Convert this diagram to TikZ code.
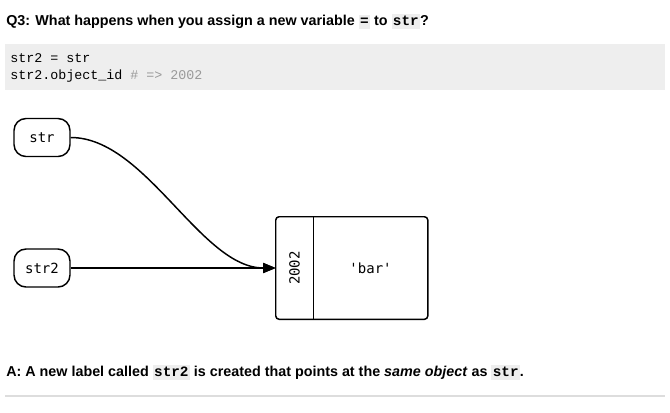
\documentclass[tikz,border=0pt]{standalone}
\usepackage{fontspec}
\setmainfont{Liberation Sans}
\setmonofont{Liberation Mono}
\newfontfamily\labelfont{DejaVu Sans Mono}
\usetikzlibrary{arrows.meta,positioning}
\definecolor{codebg}{HTML}{EEEEEE}
\definecolor{rulegray}{HTML}{DDDDDD}
\definecolor{commentgray}{HTML}{999999}
\newcommand\inlinecode[1]{{\setlength\fboxsep{1pt}\colorbox{codebg}{\ttfamily\rule[-1.8pt]{0pt}{8.5pt}#1}}}

\begin{document}
\begin{tikzpicture}[x=0.75pt,y=-0.75pt,
    textline/.style={anchor=base west,inner sep=0pt},
    heading/.style={textline,font=\bfseries\fontsize{10.75}{13}\selectfont},
    codeline/.style={textline,font=\ttfamily\fontsize{10}{12}\selectfont},
    varbox/.style={draw,line width=1.1pt,rounded corners=9pt,minimum width=42pt,minimum height=28.5pt,font=\labelfont\fontsize{10.5}{12}\selectfont},
    cell/.style={minimum height=76.5pt,inner sep=0pt,font=\labelfont\fontsize{10.5}{12}\selectfont},
    pointer/.style={line width=1.1pt,-{Triangle[length=9.5pt,width=7.5pt]}}]
    \useasboundingbox (0,0) rectangle (670,412);
    % question and code
    \node [heading] (question) at (6,25) {Q3: What happens when you assign a new variable \inlinecode{=} to \inlinecode{str}?};
    \fill [codebg] (5,44) rectangle (665,90);
    \node [codeline] (codeone) at (10,62) {str2 = str};
    \node [codeline] (codetwo) at (10,79) {str2.object\_id \textcolor{commentgray}{\# => 2002}};
    % labels and the object
    \node [varbox] (strvar) at (42,137.5) {str};
    \node [varbox] (strtwovar) at (42,268) {str2};
    \node [cell,minimum width=27.75pt] (objid) at (294.5,268) {\rotatebox{90}{2002}};
    \node [cell,minimum width=85.5pt,anchor=west] (objval) at (objid.east) {\textquotesingle bar\textquotesingle};
    \draw [line width=1.1pt,rounded corners=2.5pt] (objid.north west) rectangle (objval.south east);
    \draw [line width=1.1pt] (objid.north east) -- (objid.south east);
    \draw [pointer] (strvar.east) .. controls +(75,0) and +(-75,0) .. (objid.west);
    \draw [pointer] (strtwovar.east) -- (objid.west);
    % answer
    \node [heading] (answer) at (6,376) {A: A new label called \inlinecode{str2} is created that points at the \textit{same object} as \inlinecode{str}.};
    \draw [rulegray,line width=1pt] (5,396) -- (665,396);
\end{tikzpicture}
\end{document}
